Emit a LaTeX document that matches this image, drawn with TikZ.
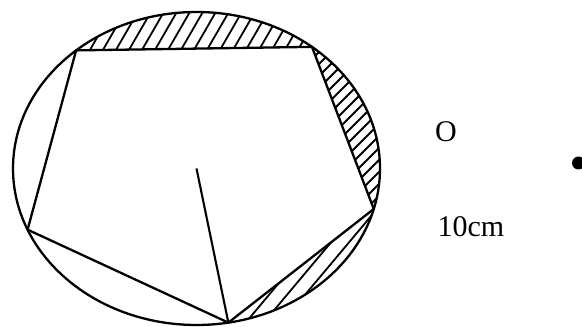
\documentclass[tikz,border=0pt]{standalone}
\usepackage{fontspec}
\setmainfont{Liberation Serif}
\usetikzlibrary{calc}
\begin{document}
\begin{tikzpicture}[x=1pt,y=1pt,
  outline/.style={line width=2.3pt},
  hatchline/.style={line width=1.8pt},
  lab/.style={font=\fontsize{30}{36}\selectfont, inner sep=0pt}]
\useasboundingbox (0,0) rectangle (582,327);
\coordinate (O) at (196.5,158.5);
\coordinate (A) at ($(O)+(131:183.5 and 156.5)$);
\coordinate (B) at ($(O)+(51:183.5 and 156.5)$);
\coordinate (C) at ($(O)+(-15:183.5 and 156.5)$);
\coordinate (D) at ($(O)+(-80:183.5 and 156.5)$);
\coordinate (E) at ($(O)+(203:183.5 and 156.5)$);
% top segment
\begin{scope}
\clip (A) arc[start angle=131,end angle=51,x radius=183.5,y radius=156.5] -- cycle;
\foreach \i in {-200,-187,...,400} \draw[hatchline] (\i,0) -- ++(60:400);
\end{scope}
% right segment
\begin{scope}
\clip (B) arc[start angle=51,end angle=-15,x radius=183.5,y radius=156.5] -- cycle;
\foreach \i in {-100,-88,...,400} \draw[hatchline] (\i,0) -- ++(45:460);
\end{scope}
% bottom-right segment
\begin{scope}
\clip (C) arc[start angle=-15,end angle=-80,x radius=183.5,y radius=156.5] -- cycle;
\foreach \i in {-100,-82,...,450} \draw[hatchline] (\i,0) -- ++(50:420);
\end{scope}
\draw[outline] (O) ellipse[x radius=183.5,y radius=156.5];
\draw[outline,line join=round] (A) -- (B) -- (C) -- (D) -- (E) -- cycle;
\draw[line width=2.1pt] (O) -- (D);
\node[lab] (lo) at (446,195) {O};
\node[lab] (l10) at (471,100) {10cm};
\node[circle, fill=black, inner sep=0pt, minimum size=13pt] (dot) at (578.5,164) {};
\end{tikzpicture}
\end{document}
